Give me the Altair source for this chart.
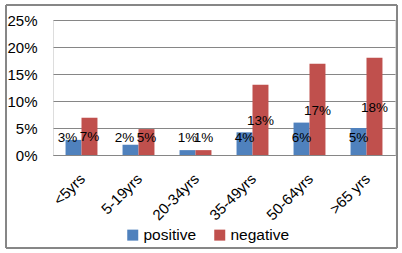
import altair as alt
import pandas as pd

categories = ["<5yrs", "5-19yrs", "20-34yrs", "35-49yrs", "50-64yrs", ">65 yrs"]
positive = [0.028, 0.019, 0.009, 0.042, 0.060, 0.050]
negative = [0.069, 0.048, 0.009, 0.130, 0.169, 0.180]
series = ["positive", "negative"]
colors = ["#4F81BD", "#C0504D"]

rows = []
for i, c in enumerate(categories):
    rows.append({"cat": c, "series": "positive", "v": positive[i]})
    rows.append({"cat": c, "series": "negative", "v": negative[i]})
df = pd.DataFrame(rows)

FONT = "Liberation Sans"

x_axis = alt.Axis(labelAngle=-45, labelFontSize=15, labelFont=FONT,
                  labelColor="#000000", ticks=False, domainColor="#868686",
                  labelPadding=16, labelOffset=-4, grid=False)
y_axis = alt.Axis(format=".0%", values=[0, 0.05, 0.1, 0.15, 0.2, 0.25], tickCount=6,
                  labelFontSize=15, labelFont=FONT, labelColor="#000000",
                  ticks=False, domain=False, gridColor="#868686",
                  labelPadding=16, labelOverlap=False, labelFlush=False)
x_scale = alt.Scale(paddingInner=0.44, paddingOuter=0.22)
y_scale = alt.Scale(domain=[0, 0.25])

x = alt.X("cat:N", sort=categories, title=None, scale=x_scale, axis=x_axis)
xoff = alt.XOffset("series:N", sort=series, scale=alt.Scale(paddingInner=0, paddingOuter=0))

bars = alt.Chart(df).mark_bar().encode(
    x=x,
    xOffset=xoff,
    y=alt.Y("v:Q", title=None, scale=y_scale, axis=y_axis),
    color=alt.Color("series:N", sort=series,
                    scale=alt.Scale(domain=series, range=colors),
                    legend=alt.Legend(title=None, orient="none", direction="horizontal",
                                      legendX=72, legendY=207, symbolType="square",
                                      symbolSize=121, symbolStrokeWidth=0,
                                      labelFontSize=15.5, labelFont=FONT,
                                      labelColor="#000000", labelOffset=3,
                                      columnPadding=15)),
)

crowded = "datum.series == 'positive' && datum.v > 0.015 && datum.v < 0.035"

base_labels = alt.Chart(df).transform_calculate(
    ly="max(datum.v * 0.48, 0.031)"
)

def label_layer(filt, dx):
    return base_labels.transform_filter(filt).mark_text(
        fontSize=13.5, font=FONT, color="#000000", baseline="middle", dx=dx).encode(
        x=x,
        xOffset=xoff,
        y=alt.Y("ly:Q", title=None, scale=y_scale, axis=y_axis),
        text=alt.Text("v:Q", format=".0%"),
    )

labels_main = label_layer("!(" + crowded + ")", 0)
labels_shift = label_layer(crowded, -6)

border = alt.Chart(df).mark_rect(fill=None, stroke="#868686", strokeWidth=1).encode(
    x=alt.value(-47), x2=alt.value(344), y=alt.value(-15), y2=alt.value(228)
)

chart = alt.layer(bars, labels_main, labels_shift, border).properties(
    width=342, height=135,
    autosize=alt.AutoSizeParams(type="none"),
    padding={"left": 53, "top": 20, "right": 7, "bottom": 98},
).configure_view(stroke=None).configure(background="#ffffff")

chart.save("out.html", embed_options={"renderer": "svg", "actions": False})
